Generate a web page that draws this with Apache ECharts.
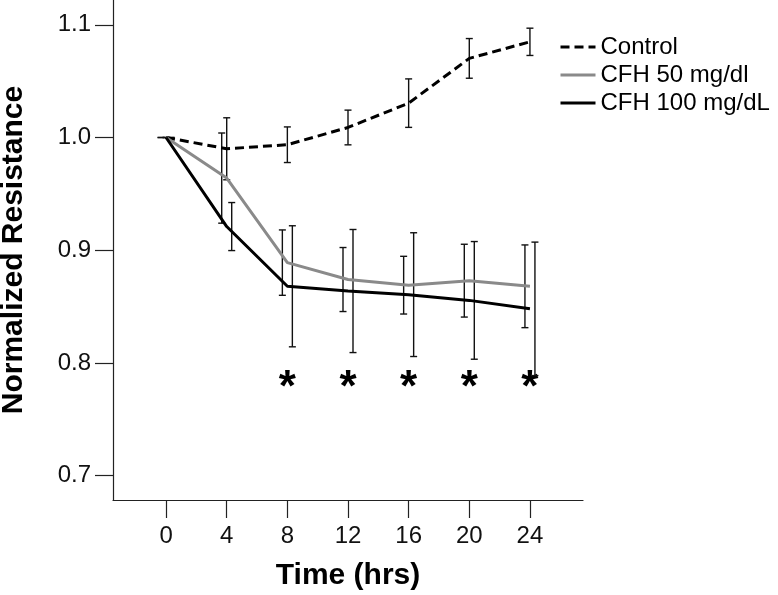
<!DOCTYPE html>
<html>
<head>
<meta charset="utf-8">
<script src="https://cdn.jsdelivr.net/npm/echarts@6/dist/echarts.min.js"></script>
<style>html,body{margin:0;padding:0;background:#fff;}#c{width:778px;height:595px;}</style>
</head>
<body>
<div id="c"></div>
<script>
var times = [0, 4, 8, 12, 16, 20, 24];
var control = [1.000, 0.990, 0.9936, 1.0089, 1.0305, 1.0702, 1.0849];
var controlErr = [0, 0.0275, 0.0158, 0.0154, 0.0215, 0.0176, 0.0121];
var cfh50 = [1.000, 0.964, 0.889, 0.874, 0.869, 0.873, 0.868];
var cfh50Err = [0, 0.040, 0.029, 0.0284, 0.0256, 0.0323, 0.0367];
var cfh100 = [1.000, 0.921, 0.868, 0.8638, 0.8606, 0.8555, 0.848];
var cfh100Err = [0, 0.0213, 0.0537, 0.0546, 0.0549, 0.0522, 0.0592];
var xTicks = [0, 4, 8, 12, 16, 20, 24];
var yTicks = [0.7, 0.8, 0.9, 1.0, 1.1];
var sigTimes = [8, 12, 16, 20, 24];
var sigLevel = 0.777;

var FONT = "'Liberation Sans', Arial, sans-serif";

function pairs(xs, ys) { return xs.map(function (x, i) { return [x, ys[i]]; }); }
function errData(xs, ys, es) { return xs.map(function (x, i) { return [x, ys[i], es[i]]; }); }

function errSeries(name, data, offset) {
  return {
    type: 'custom',
    name: name + ' err',
    data: data,
    z: 3,
    silent: true,
    renderItem: function (params, api) {
      var x = api.value(0), m = api.value(1), e = api.value(2);
      var top = api.coord([x, m + e]);
      var bot = api.coord([x, m - e]);
      var px = top[0] + offset;
      var cap = 3.5;
      var st = { stroke: '#111', lineWidth: 1.4 };
      return {
        type: 'group',
        children: [
          { type: 'line', shape: { x1: px, y1: top[1], x2: px, y2: bot[1] }, style: st },
          { type: 'line', shape: { x1: px - cap, y1: top[1], x2: px + cap, y2: top[1] }, style: st },
          { type: 'line', shape: { x1: px - cap, y1: bot[1], x2: px + cap, y2: bot[1] }, style: st }
        ]
      };
    }
  };
}

var chart = echarts.init(document.getElementById('c'));
chart.setOption({
  animation: false,
  backgroundColor: '#fff',
  textStyle: { fontFamily: FONT },
  grid: { left: 113, top: 0, right: 195, bottom: 95, containLabel: false, outerBoundsMode: 'none' },
  legend: {
    orient: 'vertical',
    left: 559,
    top: 35,
    padding: 0,
    itemWidth: 35,
    itemHeight: 14,
    itemGap: 4,
    itemStyle: { opacity: 0 },
    lineStyle: { width: 3 },
    textStyle: { fontSize: 24, color: '#000', fontFamily: FONT },
    data: ['Control', 'CFH 50 mg/dl', 'CFH 100 mg/dL']
  },
  xAxis: {
    type: 'value',
    min: -3.5,
    max: 27.5,
    name: 'Time (hrs)',
    nameLocation: 'middle',
    nameGap: 61,
    nameTextStyle: { fontSize: 30, fontWeight: 'bold', color: '#000', fontFamily: FONT },
    axisLine: { show: true, onZero: false, lineStyle: { color: '#222', width: 1.2 } },
    axisTick: { show: true, length: 18, customValues: xTicks, lineStyle: { color: '#222', width: 1.2 } },
    axisLabel: { customValues: xTicks, fontSize: 24, color: '#111', margin: 24, fontFamily: FONT },
    splitLine: { show: false }
  },
  yAxis: {
    type: 'value',
    min: 0.6784,
    max: 1.122,
    name: 'Normalized Resistance',
    nameLocation: 'middle',
    nameGap: 84,
    nameTextStyle: { fontSize: 30, fontWeight: 'bold', color: '#000', fontFamily: FONT },
    axisLine: { show: true, onZero: false, lineStyle: { color: '#222', width: 1.2 } },
    axisTick: { show: true, length: 18, customValues: yTicks, lineStyle: { color: '#222', width: 1.2 } },
    axisLabel: {
      customValues: yTicks, fontSize: 24, color: '#111', margin: 22, fontFamily: FONT,
      formatter: function (v) { return v.toFixed(1); }
    },
    splitLine: { show: false }
  },
  series: [
    {
      name: 'Control', type: 'line', data: pairs(times, control),
      symbol: 'none', z: 4,
      lineStyle: { color: '#000', width: 3, type: [9, 5] },
      itemStyle: { color: '#000', opacity: 0 }
    },
    {
      name: 'CFH 50 mg/dl', type: 'line', data: pairs(times, cfh50),
      symbol: 'none', z: 4,
      lineStyle: { color: '#8a8a8a', width: 3 },
      itemStyle: { color: '#8a8a8a', opacity: 0 }
    },
    {
      name: 'CFH 100 mg/dL', type: 'line', data: pairs(times, cfh100),
      symbol: 'none', z: 5,
      lineStyle: { color: '#000', width: 3 },
      itemStyle: { color: '#000', opacity: 0 }
    },
    errSeries('Control', errData(times, control, controlErr), 0),
    errSeries('CFH 50 mg/dl', errData(times, cfh50, cfh50Err), -5),
    errSeries('CFH 100 mg/dL', errData(times, cfh100, cfh100Err), 5),
    {
      type: 'custom',
      name: 'sig',
      silent: true,
      data: sigTimes.map(function (t) { return [t, sigLevel]; }),
      renderItem: function (params, api) {
        var p = api.coord([api.value(0), api.value(1)]);
        return {
          type: 'text',
          x: p[0], y: p[1],
          style: { text: '*', fontSize: 44, fontWeight: 'bold', fill: '#000', fontFamily: FONT, align: 'center', verticalAlign: 'middle' }
        };
      }
    }
  ]
});
</script>
</body>
</html>
